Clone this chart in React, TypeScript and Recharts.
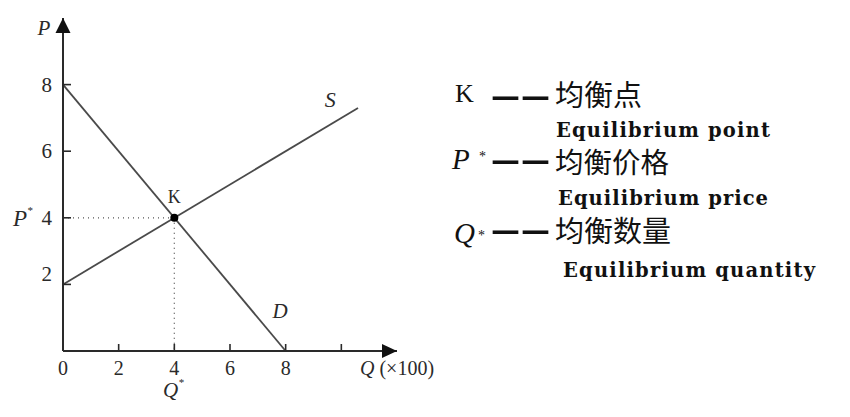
import { LineChart, Line, XAxis, YAxis, ReferenceLine, ReferenceDot } from 'recharts';

// supply / demand, Q in hundreds, P in price units
const demandQ = [0, 8];
const demandP = [8, 0];
const supplyQ = [0, 10.6];
const supplyP = [2, 7.3];
const eqQ = 4;
const eqP = 4;
const xTicks = [0, 2, 4, 6, 8, 10];
const xTickLabels = ['0', '2', '4', '6', '8', ''];
const yTicks = [2, 4, 6, 8];
const yTickLabels = ['2', '4', '6', '8'];

const demandData = demandQ.map((q, i) => ({ q, p: demandP[i] }));
const supplyData = supplyQ.map((q, i) => ({ q, p: supplyP[i] }));

const ink = '#2a2a2a';
const lineColor = '#4a4a4a';
const serif = '"Liberation Serif", "DejaVu Serif", serif';

const XTick = (props: any) => {
    const { x, y, payload } = props;
    const label = xTickLabels[xTicks.indexOf(payload.value)];
    return (
        <g>
            {payload.value !== 0 && <line x1={x} y1={y} x2={x} y2={y - 7} stroke={ink} strokeWidth={1.6} />}
            <text x={x} y={y + 24} textAnchor="middle" fontFamily={serif} fontSize={20} fill={ink}>{label}</text>
            {payload.value === eqQ && (
                <text x={x - 1} y={y + 46} textAnchor="middle" fontFamily={serif} fontSize={21} fontStyle="italic" fill={ink}>
                    Q<tspan fontSize={11} dy={-11}>*</tspan>
                </text>
            )}
        </g>
    );
};

const YTick = (props: any) => {
    const { x, y, payload } = props;
    const label = yTickLabels[yTicks.indexOf(payload.value)];
    const shift = payload.value === 2 ? -10 : 0;
    return (
        <g>
            <line x1={x} y1={y} x2={x + 8} y2={y} stroke={ink} strokeWidth={1.6} />
            <text x={x - 11} y={y + 7 + shift} textAnchor="end" fontFamily={serif} fontSize={21} fill={ink}>{label}</text>
            {payload.value === eqP && (
                <text x={x - 50} y={y + 8} fontFamily={serif} fontSize={23} fontStyle="italic" fill={ink}>
                    P<tspan fontSize={11} dy={-12}>*</tspan>
                </text>
            )}
        </g>
    );
};

const RightArrow = (props: any) => (
    <polygon points={`${props.cx},${props.cy} ${props.cx - 15},${props.cy - 7} ${props.cx - 15},${props.cy + 7}`} fill="#111" />
);
const UpArrow = (props: any) => (
    <polygon points={`${props.cx},${props.cy} ${props.cx - 7.5},${props.cy + 15} ${props.cx + 7.5},${props.cy + 15}`} fill="#111" />
);

const textAt = (txt: string, dx: number, dy: number, size: number, italic = false) => (props: any) => (
    <text x={props.cx + dx} y={props.cy + dy} textAnchor="middle" fontFamily={serif} fontSize={size}
        fontStyle={italic ? 'italic' : 'normal'} fill={ink}>{txt}</text>
);

const EqDot = (props: any) => (
    <g>
        <circle cx={props.cx} cy={props.cy} r={4} fill="#000" />
        <text x={props.cx} y={props.cy - 15} textAnchor="middle" fontFamily={serif} fontSize={18} fill={ink}>K</text>
    </g>
);

const cjk = '"Noto Sans CJK SC", sans-serif';
const bold = '"DejaVu Serif", serif';

const Dashes = ({ y }: { y: number }) => (
    <>
        <text x={493} y={y} fontFamily={serif} fontSize={50} fontWeight="bold">–</text>
        <text x={523} y={y} fontFamily={serif} fontSize={50} fontWeight="bold">–</text>
    </>
);

const Notes = () => (
    <svg width={850} height={417} style={{ position: 'absolute', left: 0, top: 0, pointerEvents: 'none' }}>
        <g fill="#111">
            <text x={455} y={102} fontFamily={serif} fontSize={26}>K</text>
            <Dashes y={110} />
            <text x={555} y={106} fontFamily={cjk} fontSize={29}>均衡点</text>
            <text x={556} y={137} fontFamily={bold} fontSize={19.5} fontWeight="bold" textLength={214} lengthAdjust="spacing">Equilibrium point</text>

            <text x={452} y={169} fontFamily={serif} fontSize={29} fontStyle="italic">P</text>
            <text x={479} y={161} fontFamily={serif} fontSize={14}>*</text>
            <Dashes y={174} />
            <text x={555} y={173} fontFamily={cjk} fontSize={28.5}>均衡价格</text>
            <text x={558} y={205} fontFamily={bold} fontSize={19.5} fontWeight="bold" textLength={210} lengthAdjust="spacing">Equilibrium price</text>

            <text x={454} y={243} fontFamily={serif} fontSize={29} fontStyle="italic">Q</text>
            <text x={478} y={240} fontFamily={serif} fontSize={14}>*</text>
            <Dashes y={244} />
            <text x={555} y={242} fontFamily={cjk} fontSize={29}>均衡数量</text>
            <text x={563} y={277} fontFamily={bold} fontSize={19.5} fontWeight="bold" textLength={252} lengthAdjust="spacing">Equilibrium quantity</text>
        </g>
    </svg>
);

const App = () => {
    return (
        <div style={{ position: 'absolute', left: 0, top: 0, width: 850, height: 417, background: '#fff' }}>
            <LineChart width={850} height={417} margin={{ top: 18, right: 453, bottom: 36, left: 0 }}>
                <XAxis dataKey="q" type="number" domain={[0, 12]} ticks={xTicks} interval={0} height={30}
                    axisLine={{ stroke: ink, strokeWidth: 2 }} tickLine={false} tickSize={0} tickMargin={0} tick={<XTick />} />
                <YAxis dataKey="p" type="number" domain={[0, 10]} ticks={yTicks} interval={0} width={63}
                    axisLine={{ stroke: ink, strokeWidth: 2 }} tickLine={false} tickSize={0} tickMargin={0} tick={<YTick />} />
                <ReferenceLine segment={[{ x: 0, y: eqP }, { x: eqQ, y: eqP }]} stroke="#555" strokeWidth={1.3} strokeDasharray="1 4" />
                <ReferenceLine segment={[{ x: eqQ, y: eqP }, { x: eqQ, y: 0 }]} stroke="#555" strokeWidth={1.3} strokeDasharray="1 4" />
                <Line data={demandData} dataKey="p" type="linear" dot={false} stroke={lineColor} strokeWidth={1.8} isAnimationActive={false} />
                <Line data={supplyData} dataKey="p" type="linear" dot={false} stroke={lineColor} strokeWidth={1.8} isAnimationActive={false} />
                <ReferenceDot x={eqQ} y={eqP} r={4} shape={<EqDot />} ifOverflow="visible" />
                <ReferenceDot x={9.6} y={7.5} r={0} shape={textAt('S', 0, 6, 22, true)} ifOverflow="visible" />
                <ReferenceDot x={7.8} y={1.2} r={0} shape={textAt('D', 0, 7, 21, true)} ifOverflow="visible" />
                <ReferenceDot x={12} y={0} r={0} shape={<RightArrow />} ifOverflow="visible" />
                <ReferenceDot x={0} y={10} r={0} shape={<UpArrow />} ifOverflow="visible" />
                <ReferenceDot x={0} y={10} r={0} shape={textAt('P', -19, 17, 21, true)} ifOverflow="visible" />
                <ReferenceDot x={12} y={0} r={0} shape={(p: any) => (
                    <text x={p.cx - 37} y={p.cy + 24} fontFamily={serif} fontSize={20} fill={ink}>
                        <tspan fontStyle="italic">Q</tspan> (×100)
                    </text>
                )} ifOverflow="visible" />
            </LineChart>
            <Notes />
        </div>
    );
};

export default App;
